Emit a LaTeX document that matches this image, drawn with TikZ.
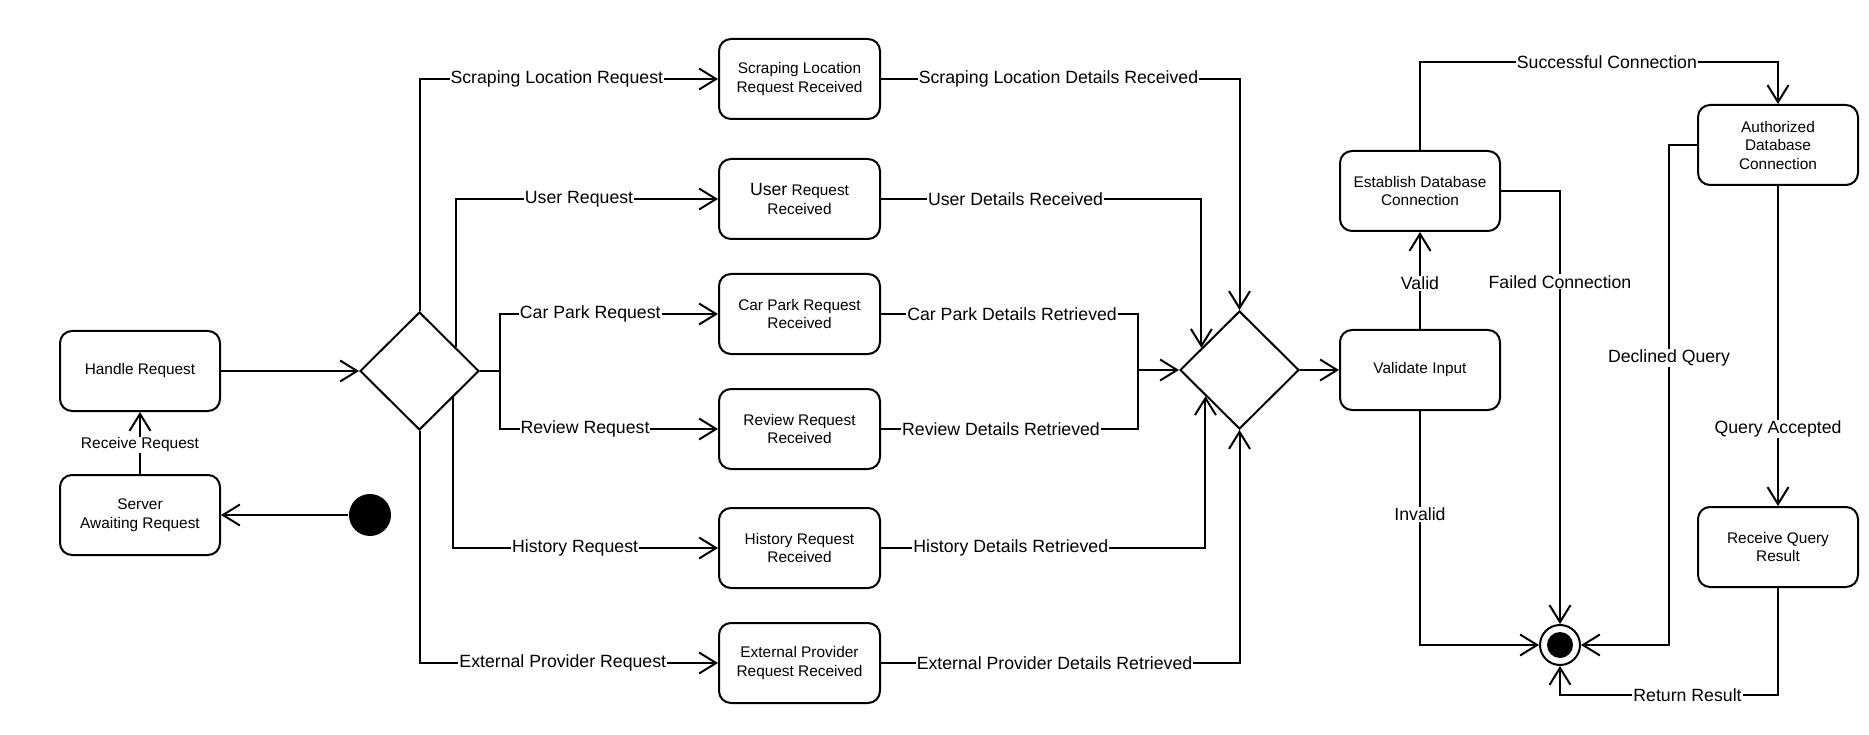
\documentclass[tikz,border=0pt]{standalone}
\usepackage{fontspec}
\setmainfont{Liberation Sans}
\usetikzlibrary{arrows.meta,shapes.geometric,calc}
\begin{document}
\begin{tikzpicture}[x=1pt,y=-1pt, line width=2pt,
  box/.style={draw, rounded corners=12pt, minimum width=161pt, minimum height=80pt, align=center, font=\fontsize{15.4}{18.5}\selectfont, inner sep=2pt},
  sbox/.style={box, minimum width=160pt},
  lbox/.style={box, minimum width=160pt},
  dec/.style={draw, diamond, minimum width=119pt, minimum height=118pt, inner sep=0pt},
  arr/.style={-{Straight Barb[length=17pt,width=21pt]}},
  darr/.style={{Straight Barb[length=17pt,width=21pt]}-{Straight Barb[length=17pt,width=21pt]}},
  lbl/.style={fill=white, inner sep=1pt, font=\fontsize{17.7}{20}\selectfont},
  slbl/.style={lbl, font=\fontsize{15.5}{18}\selectfont},
]
\useasboundingbox (0,0) rectangle (1869,735);

% nodes
\node[lbox] (hreq) at (140,371) {Handle Request};
\node[lbox] (saw) at (140,515) {Server\\Awaiting Request};
\node[circle, fill, minimum size=42pt, inner sep=0pt] (init) at (370,515) {};
\node[dec] (d1) at (419.5,371) {};
\node[box] (slr) at (799.5,79) {Scraping Location\\Request Received};
\node[box] (ur) at (799.5,199) {{\fontsize{17.7}{18.5}\selectfont User} Request\\Received};
\node[box] (cp) at (799.5,314) {Car Park Request\\Received};
\node[box] (rv) at (799.5,429) {Review Request\\Received};
\node[box] (hr) at (799.5,548) {History Request\\Received};
\node[box] (ep) at (799.5,663) {External Provider\\Request Received};
\node[dec] (d2) at (1239.5,370) {};
\node[sbox] (val) at (1420,370) {Validate Input};
\node[sbox] (est) at (1420,191) {Establish Database\\Connection};
\node[sbox] (auth) at (1778,145) {Authorized\\Database\\Connection};
\node[sbox] (rq) at (1778,547) {Receive Query\\Result};
\node[circle, draw, minimum size=40pt, inner sep=0pt,
  path picture={\fill (path picture bounding box.center) circle (13pt);}] (fin) at (1560,645) {};

% left part
\draw[arr] (init) -- (saw.east);
\draw[arr] (saw.north) -- node[slbl,pos=0.47]{Receive Request} (hreq.south);
\draw[arr] (hreq.east) -- (d1.west);
\draw[arr] (d1.north) |- node[lbl,pos=0.73]{Scraping Location Request} (slr.west);
\draw[arr] ($(d1.north)!0.6!(d1.east)$) |- node[lbl,pos=0.735]{User Request} (ur.west);
\coordinate (js) at ($(d1.east)+(20,0)$);
\draw (d1.east) -- (js);
\draw[darr] (cp.west) -| node[lbl,pos=0.293]{Car Park Request} (js |- rv.west) -- node[lbl,pos=0.39]{Review Request} (rv.west);
\draw[arr] ($(d1.south)!0.56!(d1.east)$) |- node[lbl,pos=0.73]{History Request} (hr.west);
\draw[arr] (d1.south) |- node[lbl,pos=0.74]{External Provider Request} (ep.west);

% middle part
\draw[arr] (slr.east) -| node[lbl,pos=0.2475]{Scraping Location Details Received} (d2.north);
\draw[arr] (ur.east) -| node[lbl,pos=0.21]{User Details Received} ($(d2.west)!0.37!(d2.north)$);
\coordinate (jm) at ($(d2.west)+(-41,0)$);
\draw (cp.east) -| node[lbl,pos=0.255]{Car Park Details Retrieved} (jm |- rv.east) -- node[lbl,pos=0.533]{Review Details Retrieved} (rv.east);
\draw[arr] (jm) -- (d2.west);
\draw[arr] (hr.east) -| node[lbl,pos=0.2]{History Details Retrieved} ($(d2.west)!0.437!(d2.south)$);
\draw[arr] (ep.east) -| node[lbl,pos=0.242]{External Provider Details Retrieved} (d2.south);

% right part
\draw[arr] (d2.east) -- (val.west);
\draw[arr] (val.north) -- node[lbl,pos=0.47]{Valid} (est.south);
\draw[arr] (est.north) -- ++(0,-88) -| node[lbl,pos=0.261]{Successful Connection} (auth.north);
\draw[arr] (est.east) -| node[lbl,pos=0.605]{Failed Connection} (fin.north);
\draw[arr] (auth.west) -- ++(-28,0) |- node[lbl,pos=0.213]{Declined Query} (fin.east);
\draw[arr] (auth.south) -- node[lbl,pos=0.76]{Query Accepted} (rq.north);
\draw[arr] (val.south) |- node[lbl,pos=0.221]{Invalid} (fin.west);
\draw[arr] (rq.south) -- ++(0,107) -| node[lbl,pos=0.2075]{Return Result} (fin.south);
\end{tikzpicture}
\end{document}
